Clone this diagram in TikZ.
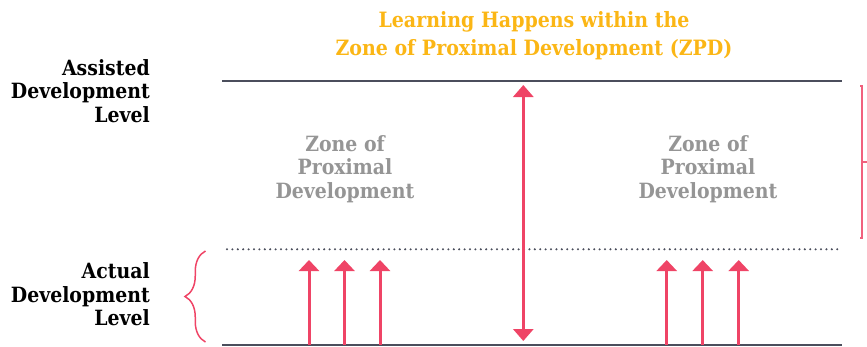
\documentclass[tikz,border=0pt]{standalone}
\usepackage{fontspec}
\setmainfont{DejaVu Serif}[FakeStretch=0.9]
\usepackage{tikz}
\usetikzlibrary{arrows.meta,decorations.pathreplacing}
\definecolor{zpdgold}{HTML}{FBB615}
\definecolor{zpdpink}{HTML}{EF4466}
\definecolor{zpdgray}{HTML}{959595}
\definecolor{zpdline}{HTML}{4B4E5C}

\begin{document}
\begin{tikzpicture}[x=1pt,y=-1pt,
  levellabel/.style={anchor=east,align=right,inner sep=0pt,text=black,
    font=\bfseries\fontsize{21}{23.5}\selectfont},
  zonelabel/.style={align=center,inner sep=0pt,text=zpdgray,
    font=\bfseries\fontsize{21}{23.3}\selectfont},
  titlelabel/.style={align=center,inner sep=0pt,text=zpdgold,
    font=\bfseries\fontsize{21.1}{28.3}\selectfont},
  levelline/.style={draw=zpdline,line width=2pt},
  zonearrow/.style={draw=zpdpink,line width=3pt,-{Triangle[width=20pt,length=11pt]}},
  spanarrow/.style={draw=zpdpink,line width=3pt,{Triangle[width=20pt,length=12pt]}-{Triangle[width=20pt,length=12pt]}}]
\useasboundingbox (0,0) rectangle (867,346);

% texts
\node[titlelabel] (title) at (534,35.5) {Learning Happens within the\\Zone of Proximal Development (ZPD)};
\node[levellabel] (assisted) at (150,91) {Assisted\\Development\\Level};
\node[levellabel] (actual) at (150,294.5) {Actual\\Development\\Level};
\node[zonelabel] (zoneL) at (345,169) {Zone of\\Proximal\\Development};
\node[zonelabel] (zoneR) at (708,169) {Zone of\\Proximal\\Development};

% levels
\coordinate (topW) at (222,80.5);   \coordinate (topE) at (842,80.5);
\coordinate (dotW) at (227,249.3);  \coordinate (dotE) at (841,249.3);
\coordinate (botW) at (222,345);    \coordinate (botE) at (842,345);
\draw[levelline] (topW) -- (topE);
\draw[levelline] (botW) -- (botE);
\draw[draw=zpdline,line width=2.3pt,line cap=round,dash pattern=on 0pt off 5.4pt] (dotW) -- (dotE);

% the span of the ZPD
\coordinate (spanB) at (523.3,341);
\coordinate (spanT) at (523.3,85);
\draw[spanarrow] (spanB) -- (spanT);

% arrows into the zone
\foreach \x/\n in {309/a,344.5/b,380/c,666.7/d,702.7/e,738.7/f}{
  \coordinate (base\n) at (\x,345);
  \coordinate (tip\n) at (\x,260);
  \draw[zonearrow] (base\n) -- (tip\n);
}

% brace at the actual level
\coordinate (braceB) at (205.5,342);
\coordinate (braceT) at (205.5,251);
\draw[draw=zpdpink,line width=1.5pt,decorate,decoration={brace,amplitude=20.5pt}] (braceB) -- (braceT);

% bracket at the right edge
\coordinate (brackT) at (862,86);
\coordinate (brackB) at (862,238);
\coordinate (brackM) at (862,162);
\draw[draw=zpdpink!85,line width=1.5pt] ([xshift=-2pt]brackT) -- (brackT) -- (brackB) -- ([xshift=-2pt]brackB);
\draw[draw=zpdpink!85,line width=1.5pt] (brackM) -- ++(5,0);
\end{tikzpicture}
\end{document}
